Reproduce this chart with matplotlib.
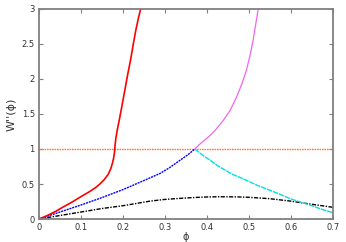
import matplotlib
matplotlib.use("Agg")
import matplotlib.pyplot as plt

red_x = [0, 0.02, 0.04, 0.06, 0.081, 0.1, 0.12, 0.135, 0.145, 0.155, 0.165, 0.171, 0.175, 0.178,
         0.18, 0.181, 0.183, 0.186, 0.191, 0.197, 0.205, 0.211, 0.218, 0.224, 0.23, 0.236, 0.242]
red_y = [0, 0.05, 0.11, 0.18, 0.25, 0.32, 0.39, 0.45, 0.5, 0.56, 0.64, 0.72, 0.8, 0.88,
         0.96, 1.05, 1.15, 1.26, 1.41, 1.6, 1.86, 2.06, 2.27, 2.48, 2.68, 2.85, 3.0]

mag_x = [0.371, 0.383, 0.395, 0.407, 0.42, 0.439, 0.455, 0.471, 0.483, 0.494, 0.503, 0.510, 0.516, 0.522]
mag_y = [1.0, 1.07, 1.13, 1.19, 1.27, 1.41, 1.55, 1.75, 1.93, 2.13, 2.35, 2.56, 2.78, 3.0]

blue_x = [0, 0.05, 0.1, 0.145, 0.2, 0.25, 0.288, 0.31, 0.336, 0.355, 0.371]
blue_y = [0, 0.1, 0.2, 0.295, 0.42, 0.55, 0.65, 0.73, 0.84, 0.92, 1.0]

cyan_x = [0.371, 0.39, 0.41, 0.423, 0.44, 0.46, 0.48, 0.502, 0.52, 0.55, 0.575, 0.598, 0.629, 0.65, 0.67, 0.7]
cyan_y = [1.0, 0.91, 0.83, 0.77, 0.71, 0.64, 0.59, 0.53, 0.48, 0.41, 0.35, 0.29, 0.23, 0.19, 0.145, 0.09]

black_x = [0, 0.05, 0.1, 0.15, 0.2, 0.264, 0.3, 0.336, 0.37, 0.4, 0.43, 0.47, 0.5, 0.55, 0.6, 0.65, 0.7]
black_y = [0, 0.05, 0.1, 0.15, 0.19, 0.255, 0.28, 0.295, 0.307, 0.315, 0.318, 0.316, 0.31, 0.29, 0.255, 0.21, 0.167]

hline_y = 1.0

fig = plt.figure(figsize=(3.46, 2.42), dpi=100)
ax = fig.add_axes([0.1127, 0.095, 0.8497, 0.868])

ax.axhline(hline_y, color='#ff7a40', lw=1.0, ls=(0, (1.2, 0.6)))
ax.plot(black_x, black_y, color='black', lw=1.0, ls=(0, (3, 1, 1, 1)))
ax.plot(blue_x, blue_y, color='#0000ff', lw=1.0, ls=(0, (1.5, 0.6)))
ax.plot(cyan_x, cyan_y, color='#00e0e0', lw=1.0, ls=(0, (4, 0.6)))
ax.plot(mag_x, mag_y, color='#ee66ee', lw=0.9)
ax.plot(red_x, red_y, color='#ff0000', lw=1.2)

ax.set_xlim(0, 0.7)
ax.set_ylim(0, 3)
ax.set_xticks([0, 0.1, 0.2, 0.3, 0.4, 0.5, 0.6, 0.7])
ax.set_xticklabels(['0', '0.1', '0.2', '0.3', '0.4', '0.5', '0.6', '0.7'])
ax.set_yticks([0, 0.5, 1, 1.5, 2, 2.5, 3])
ax.set_yticklabels(['0', '0.5', '1', '1.5', '2', '2.5', '3'])
ax.tick_params(direction='in', top=True, right=True, length=3, width=0.8,
               color='#808080', labelsize=6, labelcolor='#333333', pad=3)
for s in ax.spines.values():
    s.set_color('#808080')
    s.set_linewidth(1.3)

ax.set_xlabel('ϕ', fontsize=7, color='#333333', labelpad=0)
ax.set_ylabel("W''(ϕ)", fontsize=8, color='#333333', labelpad=4)

fig.savefig('out.png', dpi=100)
